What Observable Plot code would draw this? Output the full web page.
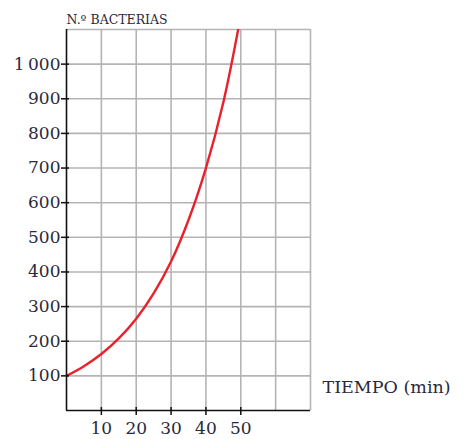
<!DOCTYPE html>
<html>
<head>
<meta charset="utf-8">
<script src="https://cdn.jsdelivr.net/npm/d3@7"></script>
<script src="https://cdn.jsdelivr.net/npm/@observablehq/plot@0.6"></script>
<style>
  html, body { margin: 0; padding: 0; background: #fff; }
  #chart svg { display: block; }
</style>
</head>
<body>
<div id="chart"></div>
<script>
// Data
const tiempo    = [0, 5, 10, 15, 20, 25, 30, 35, 40, 45, 50];
const bacterias = [100, 128, 163, 208, 265, 338, 430, 550, 700, 890, 1140];
const xTicks = [10, 20, 30, 40, 50];
const xGrid = [10, 20, 30, 40, 50, 60, 70];
const yTicks = [100, 200, 300, 400, 500, 600, 700, 800, 900, 1000];
const yTickLabels = ["100", "200", "300", "400", "500", "600", "700", "800", "900", "1\u2009000"];
const yGrid = [100, 200, 300, 400, 500, 600, 700, 800, 900, 1000, 1100];
const xLabel = "TIEMPO (min)";
const yLabel = "N.º BACTERIAS";

const data = tiempo.map((t, i) => ({t, n: bacterias[i]}));
const textColor = "#2a2a3c";
const font = "DejaVu Serif";

const chart = Plot.plot({
  width: 464,
  height: 439,
  marginLeft: 66,
  marginRight: 154,
  marginTop: 29,
  marginBottom: 29,
  style: {fontFamily: font, color: textColor, background: "#fff"},
  x: {domain: [0, 70]},
  y: {domain: [0, 1100]},
  marks: [
    Plot.ruleX(xGrid, {stroke: "#b4b4b4", strokeWidth: 1.6}),
    Plot.ruleY(yGrid, {stroke: "#b4b4b4", strokeWidth: 1.6}),
    Plot.line(data, {x: "t", y: "n", stroke: "#e8212b", strokeWidth: 2.4, curve: "catmull-rom", clip: true}),
    Plot.ruleX([0], {stroke: "#111", strokeWidth: 1.6}),
    Plot.ruleY([0], {stroke: "#111", strokeWidth: 1.6}),
    Plot.axisX(xTicks, {tickSize: 5, tickPadding: 6, fontSize: 17, label: null, stroke: "#111", strokeWidth: 1.5, fill: textColor}),
    Plot.axisX(xTicks, {tickSize: -3, tickFormat: () => "", label: null, stroke: "#111", strokeWidth: 1.5}),
    Plot.axisY(yTicks, {tickSize: 5, tickPadding: 1, fontSize: 17, label: null, tickFormat: (d) => yTickLabels[yTicks.indexOf(d)], stroke: "#111", strokeWidth: 1.5, fill: textColor}),
    Plot.axisY(yTicks, {tickSize: -3, tickFormat: () => "", label: null, stroke: "#111", strokeWidth: 1.5}),
    Plot.text([yLabel], {frameAnchor: "top-left", dy: -14, dx: 0, textAnchor: "start", fontSize: 12.5, fill: textColor}),
    Plot.text([xLabel], {frameAnchor: "bottom-right", dx: 12, dy: -18, textAnchor: "start", fontSize: 17.5, fill: textColor})
  ]
});
document.getElementById("chart").appendChild(chart);
</script>
</body>
</html>
